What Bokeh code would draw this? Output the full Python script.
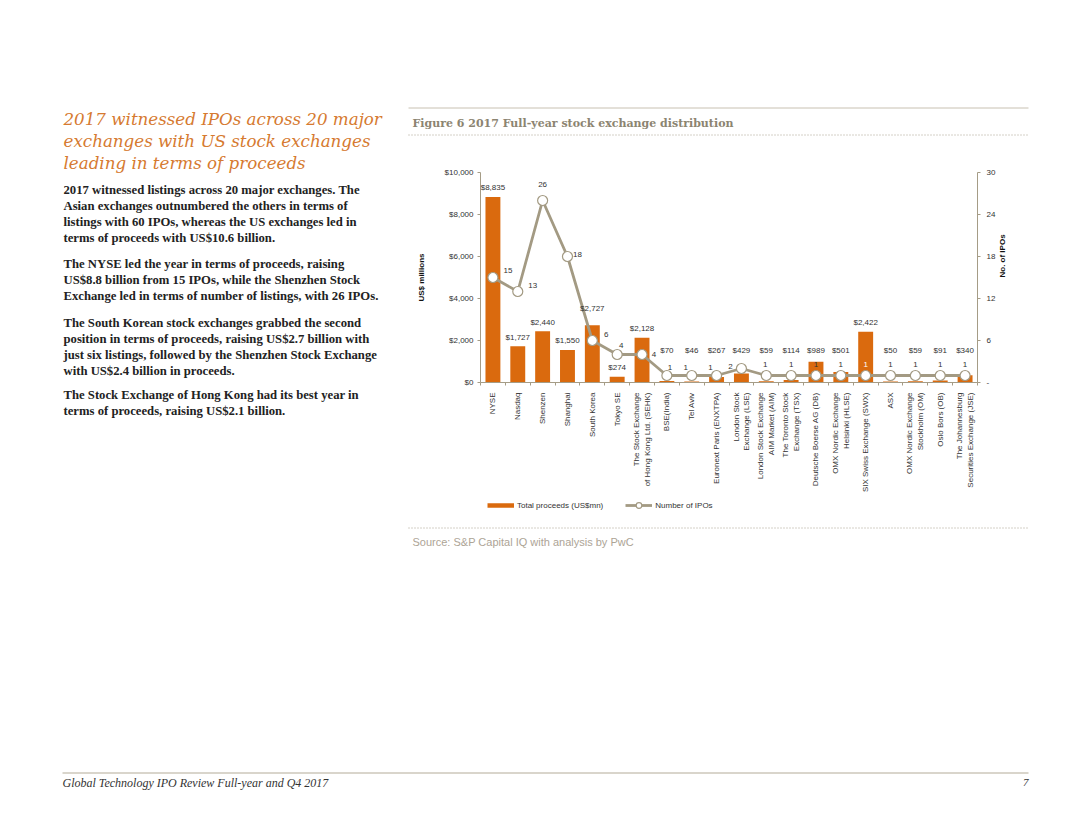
import math
from bokeh.plotting import figure
from bokeh.layouts import row, column
from bokeh.models import (Range1d, LinearAxis, FixedTicker, NumeralTickFormatter,
                          Legend, LegendItem, ColumnDataSource, LabelSet)
from bokeh.core.properties import value
from bokeh.embed import file_html
from bokeh.resources import INLINE

# ---------------- data ----------------
exchanges = ["NYSE", "Nasdaq", "Shenzen", "Shanghai", "South Korea", "Tokyo SE",
             "The Stock Exchange\nof Hong Kong Ltd. (SEHK)", "BSE(India)", "Tel Aviv",
             "Euronext Paris (ENXTPA)", "London Stock\nExchange (LSE)",
             "London Stock Exchange\nAIM Market (AIM)", "The Toronto Stock\nExchange (TSX)",
             "Deutsche Boerse AG (DB)", "OMX Nordic Exchange\nHelsinki (HLSE)",
             "SIX Swiss Exchange (SWX)", "ASX", "OMX Nordic Exchange\nStockholm (OM)",
             "Oslo Bors (OB)", "The Johannesburg\nSecurities Exchange (JSE)"]
proceeds = [8835, 1727, 2440, 1550, 2727, 274, 2128, 70, 46, 267, 429, 59, 114, 989, 501,
            2422, 50, 59, 91, 340]
ipos = [15, 13, 26, 18, 6, 4, 4, 1, 1, 1, 2, 1, 1, 1, 1, 1, 1, 1, 1, 1]
proceeds_ticks = [0, 2000, 4000, 6000, 8000, 10000]
ipo_ticks = [0, 6, 12, 18, 24, 30]

headline = ["2017 witnessed IPOs across 20 major",
            "exchanges with US stock exchanges",
            "leading in terms of proceeds"]
paragraphs = [
    ["2017 witnessed listings across 20 major exchanges. The",
     "Asian exchanges outnumbered the others in terms of",
     "listings with 60 IPOs, whereas the US exchanges led in",
     "terms of proceeds with US$10.6 billion."],
    ["The NYSE led the year in terms of proceeds, raising",
     "US$8.8 billion from 15 IPOs, while the Shenzhen Stock",
     "Exchange led in terms of number of listings, with 26 IPOs."],
    ["The South Korean stock exchanges grabbed the second",
     "position in terms of proceeds, raising US$2.7 billion with",
     "just six listings, followed by the Shenzhen Stock Exchange",
     "with US$2.4 billion in proceeds."],
    ["The Stock Exchange of Hong Kong had its best year in",
     "terms of proceeds, raising US$2.1 billion."],
]
fig_title = "Figure 6 2017 Full-year stock exchange distribution"
source_note = "Source: S&P Capital IQ with analysis by PwC"
footer_text = "Global Technology IPO Review Full-year and Q4 2017"
page_no = "7"
legend_labels = ["Total proceeds (US$mn)", "Number of IPOs"]

# ---------------- style ----------------
ORANGE = "#DA6A0E"
LINEC = "#A39A83"
AXISC = "#A59C86"
GRIDC = "#BDB6A2"
TXT = "#333333"
SANS = "Liberation Sans"
NAN = float("nan")


def page_fig(w, h, x0, y0):
    """A plain figure whose data coordinates are page pixels (y grows downward)."""
    f = figure(width=w, height=h, x_range=Range1d(x0, x0 + w), y_range=Range1d(y0 + h, y0),
               output_backend="svg", toolbar_location=None, min_border=0,
               x_axis_type=None, y_axis_type=None, outline_line_color=None,
               frame_align=False)
    f.grid.visible = False
    return f


def put_lines(f, lines, x, y0, step, font, size, style, color, align="left"):
    f.text(x=[x] * len(lines), y=[y0 + step * i for i in range(len(lines))], text=lines,
           text_font=value(font), text_font_size=size, text_font_style=style,
           text_color=color, text_align=align, text_baseline="middle")


# ---------------- left text column ----------------
left = page_fig(400, 560, 0, 0)
put_lines(left, headline, 63, 118, 22, "DejaVu Serif", "16.7px", "italic", "#D67A30")
for py, lines in zip([189, 263, 322, 394], paragraphs):
    put_lines(left, lines, 63, py, 16, "Liberation Serif", "12.7px", "bold", "#222222")

# ---------------- header above chart ----------------
header = page_fig(664, 136, 400, 0)
header.segment(x0=[408], y0=[107.5], x1=[1028], y1=[107.5], line_color="#C8C1B2", line_width=1)
header.segment(x0=[408], y0=[134.5], x1=[1028], y1=[134.5], line_color="#A8A08E",
               line_width=1, line_dash="1 2")
put_lines(header, [fig_title], 412, 123, 0, "DejaVu Serif", "11px", "bold", "#8C8471")

# ---------------- chart ----------------
CH_TOP = 136
CH_BOT = 498
CH_H = CH_BOT - CH_TOP
p = figure(width=664, height=CH_H, output_backend="svg", toolbar_location=None,
           x_range=Range1d(0, len(exchanges)), y_range=Range1d(0, 10000),
           x_axis_type=None, y_axis_type=None, frame_align=False,
           min_border_left=80, min_border_right=87, min_border_top=172 - CH_TOP,
           min_border_bottom=CH_H - (172 - CH_TOP) - 210, outline_line_color=None)
p.extra_y_ranges = {"ipo": Range1d(0, 30)}
p.xgrid.visible = False

xc = [i + 0.5 for i in range(len(exchanges))]

xax = LinearAxis(ticker=FixedTicker(ticks=xc, minor_ticks=list(range(len(exchanges) + 1))),
                 major_label_overrides={x: n for x, n in zip(xc, exchanges)})
xax.major_label_orientation = math.pi / 2
xax.major_tick_line_color = None
xax.minor_tick_out = 3
xax.minor_tick_in = 0
xax.minor_tick_line_color = AXISC
xax.axis_line_color = AXISC
xax.major_label_text_font = SANS
xax.major_label_text_font_size = "8px"
xax.major_label_text_color = TXT
xax.major_label_standoff = 4
p.add_layout(xax, "below")

lax = LinearAxis(ticker=FixedTicker(ticks=proceeds_ticks), formatter=NumeralTickFormatter(format="$0,0"),
                 axis_label="US$ millions")
rax = LinearAxis(y_range_name="ipo", ticker=FixedTicker(ticks=ipo_ticks),
                 major_label_overrides={0: "-"}, axis_label="No. of IPOs")
for ax, st in ((lax, 4), (rax, 6)):
    ax.axis_line_color = AXISC
    ax.major_tick_line_color = AXISC
    ax.major_tick_out = 3
    ax.major_tick_in = 0
    ax.minor_tick_line_color = None
    ax.major_label_text_font = SANS
    ax.major_label_text_font_size = "8px"
    ax.major_label_text_color = TXT
    ax.major_label_standoff = st
    ax.axis_label_text_font = SANS
    ax.axis_label_text_font_size = "8px"
    ax.axis_label_text_font_style = "bold"
    ax.axis_label_text_color = "#111111"
lax.axis_label_standoff = 16
rax.axis_label_standoff = 4
try:
    rax.axis_label_orientation = math.pi / 2
    rax.axis_label_text_align = "center"
except AttributeError:
    pass
p.add_layout(lax, "left")
p.add_layout(rax, "right")

p.ygrid.ticker = FixedTicker(ticks=proceeds_ticks)
p.ygrid.grid_line_color = GRIDC
p.ygrid.grid_line_width = 1

# bars
r_bar = p.vbar(x=xc, top=proceeds, width=0.6, fill_color=ORANGE, line_color=None)

low_label = {"Tokyo SE"}
bar_anchor = [v if (v >= 1100 or n in low_label) else 1100 for v, n in zip(proceeds, exchanges)]
bar_dy = [9 if n != "South Korea" else 17 for n in exchanges]
bsrc = ColumnDataSource(dict(x=xc, y=bar_anchor, dy=bar_dy,
                             t=["${:,}".format(v) for v in proceeds]))
p.add_layout(LabelSet(x="x", y="y", text="t", source=bsrc, y_offset="dy",
                      text_align="center", text_baseline="middle",
                      text_font=value(SANS), text_font_size="8px", text_color=TXT))

# line + markers
r_line = p.line(x=xc, y=ipos, y_range_name="ipo", line_color=LINEC, line_width=2.8)
r_sc = p.scatter(x=xc, y=ipos, y_range_name="ipo", marker="circle", size=10,
                 fill_color="white", line_color=LINEC, line_width=1.2)

ipo_dx = [15, 15, 0, 10, 14, 4, 12, 3, -6, -6, -11, -1, 0, 0, 0, 0, 0, 0, 0, 0]
ipo_dy = [7, 6, 16, 2, 6, 9, 0, 8, 8, 8, 2, 11, 11, 11, 11, 11, 11, 11, 11, 11]
ipo_col = []
for v, n, dx, dy in zip(proceeds, ipos, ipo_dx, ipo_dy):
    label_px = n * 210 / 30 + dy
    bar_px = v * 210 / 10000
    ipo_col.append("white" if (abs(dx) < 7 and bar_px > label_px + 3) else TXT)
isrc = ColumnDataSource(dict(x=xc, y=ipos, t=[str(n) for n in ipos], dx=ipo_dx, dy=ipo_dy, c=ipo_col))
p.add_layout(LabelSet(x="x", y="y", text="t", source=isrc, y_range_name="ipo",
                      x_offset="dx", y_offset="dy", text_color="c",
                      text_align="center", text_baseline="middle",
                      text_font=value(SANS), text_font_size="8px"))

# ---------------- legend + source under the chart ----------------
BT = CH_BOT
bottom = page_fig(664, 560 - BT, 400, BT)
# legend keys (styled like the chart's bars / line; NaN data so they draw nothing themselves)
k_bar = bottom.line(x=[NAN], y=[NAN], line_color=ORANGE, line_width=4.5)
k_line = bottom.line(x=[NAN], y=[NAN], line_color=LINEC, line_width=2.8)
k_dot = bottom.scatter(x=[NAN], y=[NAN], marker="circle", size=10, fill_color="white",
                       line_color=LINEC, line_width=1.2)
legend = Legend(items=[LegendItem(label=legend_labels[0], renderers=[k_bar], index=0),
                       LegendItem(label=legend_labels[1], renderers=[k_line, k_dot], index=0)],
                location=(87, (560 - BT) - 7 - 7), orientation="horizontal",
                glyph_width=27, glyph_height=14,
                label_text_font=SANS, label_text_font_size="8px", label_text_color=TXT,
                label_height=14, padding=0, margin=0, spacing=22, label_standoff=3,
                border_line_color=None, background_fill_alpha=0)
bottom.add_layout(legend)
bottom.segment(x0=[408], y0=[527.5], x1=[1028], y1=[527.5], line_color="#A8A08E",
               line_width=1, line_dash="1 2")
put_lines(bottom, [source_note], 412, 541, 0, SANS, "11px", "normal", "#ADA496")

# ---------------- footer ----------------
footer = page_fig(1064, 819 - 560, 0, 560)
footer.segment(x0=[62], y0=[772.5], x1=[1028], y1=[772.5], line_color="#B3AB98", line_width=1)
put_lines(footer, [footer_text], 62, 782, 0, "Liberation Serif", "12px", "italic", "#333333")
put_lines(footer, [page_no], 1028, 782, 0, "Liberation Serif", "11px", "italic", "#333333",
          align="right")

page = column(row(left, column(header, p, bottom, spacing=0), spacing=0), footer, spacing=0)
open("out.html", "w").write(file_html(page, INLINE))
